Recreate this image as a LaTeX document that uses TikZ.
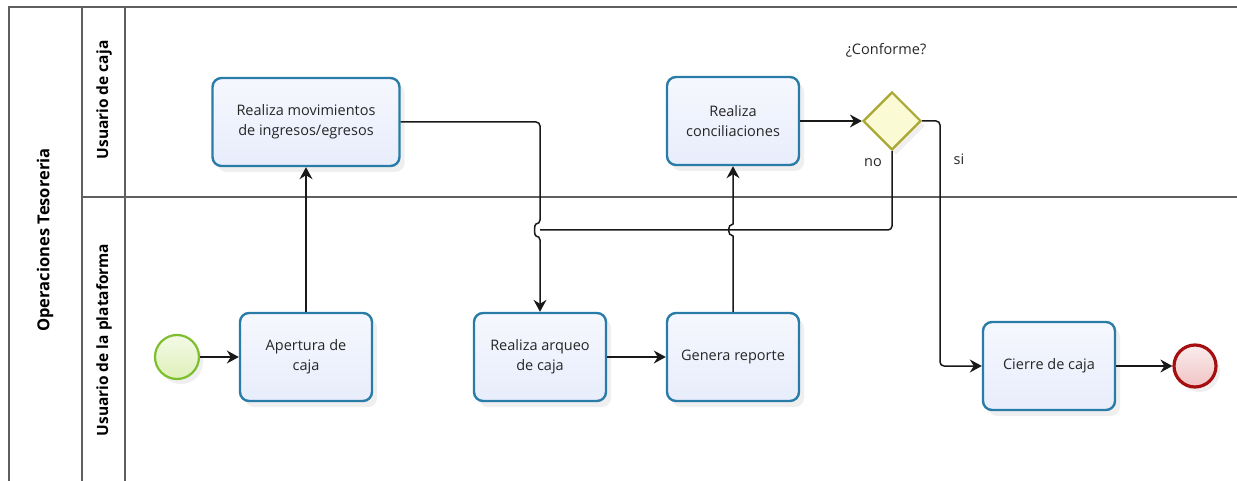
\documentclass[tikz,border=0pt]{standalone}
\usepackage{fontspec}
\setmainfont{Open Sans}
\usetikzlibrary{arrows.meta,shapes.geometric,shadows}

\definecolor{taskblue}{RGB}{42,124,168}
\definecolor{taskfill}{RGB}{232,237,252}
\definecolor{startgreen}{RGB}{125,190,45}
\definecolor{startfill}{RGB}{222,240,185}
\definecolor{endred}{RGB}{165,15,15}
\definecolor{endfill}{RGB}{240,195,195}
\definecolor{gateolive}{RGB}{170,168,50}
\definecolor{gatefill}{RGB}{250,250,212}
\definecolor{poolgray}{RGB}{95,95,95}

\tikzset{
  bodyfont/.style={font=\fontsize{14.5}{20}\selectfont, text=black!85},
  task/.style={rectangle, rounded corners=9pt, draw=taskblue, line width=2.4pt,
    top color=taskfill!40, bottom color=taskfill, minimum width=132pt, minimum height=88pt,
    align=center, bodyfont,
    drop shadow={shadow xshift=5pt, shadow yshift=-6pt, opacity=0.13}},
  startev/.style={circle, draw=startgreen, line width=2.2pt, inner sep=0pt, minimum size=44pt,
    top color=startfill!35, bottom color=startfill,
    drop shadow={shadow xshift=4pt, shadow yshift=-5pt, opacity=0.13}},
  endev/.style={circle, draw=endred, line width=3.2pt, inner sep=0pt, minimum size=42pt,
    top color=endfill!30, bottom color=endfill,
    drop shadow={shadow xshift=4pt, shadow yshift=-5pt, opacity=0.13}},
  gateway/.style={diamond, draw=gateolive, line width=2.2pt, inner sep=0pt, minimum size=58pt,
    fill=gatefill, drop shadow={shadow xshift=4pt, shadow yshift=-5pt, opacity=0.13}},
  plain/.style={inner sep=1pt, bodyfont},
  lanelabel/.style={rotate=90, font=\fontsize{15.5}{18}\selectfont\bfseries},
  pool/.style={draw=poolgray, line width=1.2pt},
  link/.style={line width=1.5pt, draw=black!90},
  flow/.style={link, -{Stealth[length=12pt, width=13pt, inset=4pt]}}
}

\begin{document}
\begin{tikzpicture}[x=1pt,y=-1pt]
  \useasboundingbox (0,0) rectangle (1237,481);

  % pool and lanes
  \draw[pool] (1237,7) -- (9,7) -- (9,481);
  \draw[pool] (82,7) -- (82,481);
  \draw[pool] (125,7) -- (125,481);
  \draw[pool] (82,197) -- (1237,197);
  \node[lanelabel, font=\fontsize{16.5}{18}\selectfont\bfseries] (pool) at (45,240) {Operaciones Tesoreria};
  \node[lanelabel] (caja) at (104,100) {Usuario de caja};
  \node[lanelabel] (plataforma) at (104,340) {Usuario de la plataforma};

  % activities
  \node[startev] (inicio) at (177,357) {};
  \node[task] (apertura) at (306,357) {Apertura de\\caja};
  \node[task, minimum width=187pt] (movimientos) at (306,122) {Realiza movimientos\\de ingresos/egresos};
  \node[task] (arqueo) at (540,357) {Realiza arqueo\\de caja};
  \node[task] (reporte) at (733,357) {Genera reporte};
  \node[task] (conciliaciones) at (733,121) {Realiza\\conciliaciones};

  \node[gateway] (conforme) at (892,121) {};
  \node[plain] (pregunta) at (886,50) {¿Conforme?};
  \node[plain] (no) at (873,163) {no};
  \node[plain] (si) at (959,159) {si};

  \node[task] (cierre) at (1049,366) {Cierre de caja};
  \node[endev] (fin) at (1195,366) {};

  % flows
  \draw[flow] (inicio) -- (apertura);
  \draw[flow] (apertura) -- (movimientos);
  \draw[flow, rounded corners=4pt] (movimientos.east) -- (540,122) -- (540,224)
    .. controls (534,224) and (534,236) .. (540,236) -- (arqueo.north);
  \draw[flow] (arqueo) -- (reporte);
  \draw[flow] (reporte.north) -- (733,236)
    .. controls (727,236) and (727,224) .. (733,224) -- (conciliaciones.south);
  \draw[flow] (conciliaciones) -- (conforme);
  \draw[link, rounded corners=4pt] (conforme.south) -- (892,230) -- (540,230);
  \draw[flow, rounded corners=4pt] (conforme.east) -- (940,121) -- (940,366) -- (cierre.west);
  \draw[flow] (cierre) -- (fin);
\end{tikzpicture}
\end{document}
